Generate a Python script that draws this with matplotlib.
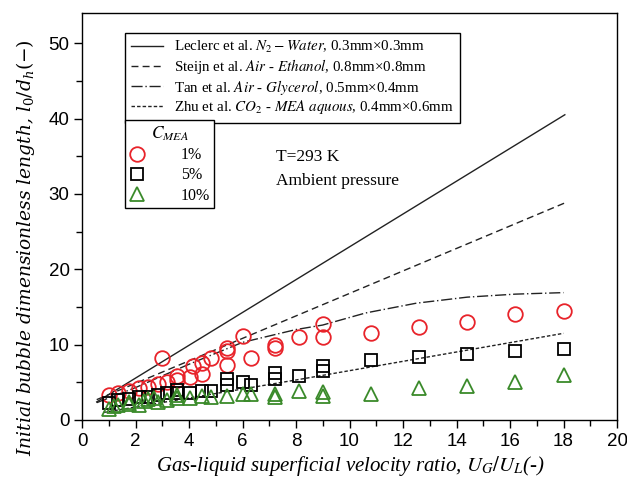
import matplotlib
matplotlib.use("Agg")
import matplotlib.pyplot as plt
from matplotlib.ticker import MultipleLocator

plt.rcParams['mathtext.fontset'] = 'stix'

# ---------------- data ----------------
c1_x = [1.0, 1.35, 1.76, 2.14, 2.47, 2.85, 3.0, 3.19, 3.56, 3.56, 4.04, 4.16, 4.5, 4.5, 4.81,
        5.41, 5.41, 5.41, 6.0, 6.31, 7.2, 7.2, 8.1, 9.0, 9.0, 10.8, 12.6, 14.4, 16.2, 18.0]
c1_y = [3.3, 3.6, 3.9, 4.3, 4.4, 4.75, 8.2, 5.0, 5.8, 5.3, 5.7, 7.2, 7.5, 6.1, 8.2,
        9.5, 9.1, 7.3, 11.2, 8.2, 10.0, 9.6, 11.0, 12.7, 11.0, 11.6, 12.4, 13.0, 14.0, 14.4]

c5_x = [1.0, 1.35, 1.76, 2.14, 2.47, 2.85, 3.19, 3.56, 3.56, 4.04, 4.5, 4.81, 5.41, 5.41,
        6.0, 6.31, 7.2, 7.2, 8.1, 9.0, 9.0, 10.8, 12.6, 14.4, 16.2, 18.0]
c5_y = [2.2, 2.6, 2.8, 3.0, 3.1, 3.3, 3.6, 4.0, 3.6, 3.6, 3.9, 3.9, 5.4, 4.6,
        5.1, 4.6, 6.3, 5.5, 5.9, 7.2, 6.5, 8.0, 8.4, 8.7, 9.1, 9.4]

c10_x = [1.0, 1.2, 1.35, 1.76, 1.76, 2.14, 2.3, 2.47, 2.7, 2.85, 3.19, 3.56, 3.56, 4.04, 4.5,
         4.81, 5.41, 6.0, 6.31, 7.2, 7.2, 8.1, 9.0, 9.0, 10.8, 12.6, 14.4, 16.2, 18.0]
c10_y = [1.5, 1.8, 2.0, 2.1, 2.4, 2.0, 2.5, 2.75, 2.9, 2.4, 2.7, 2.9, 3.3, 2.9, 3.2,
         3.1, 3.2, 3.5, 3.4, 3.5, 3.1, 3.8, 3.7, 3.2, 3.5, 4.2, 4.5, 5.1, 6.0]

leclerc_x = [0.55, 18.05]
leclerc_y = [2.4, 40.5]
steijn_x = [0.55, 18.05]
steijn_y = [2.7, 28.8]
tan_x = [0.55, 2.0, 4.0, 6.0, 8.0, 9.0, 10.6, 12.5, 14.4, 16.2, 18.0]
tan_y = [2.3, 4.3, 7.4, 10.3, 12.0, 12.6, 14.2, 15.5, 16.3, 16.7, 16.9]
zhu_x = [0.8, 8.15, 18.0]
zhu_y = [1.0, 5.4, 11.5]

line_labels = [r"Leclerc et al. $N_2-Water$, 0.3mm×0.3mm",
               r"Steijn et al. $Air$ - $Ethanol$, 0.8mm×0.8mm",
               r"Tan et al. $Air$ - $Glycerol$, 0.5mm×0.4mm",
               r"Zhu et al. $CO_2$ - $MEA\ aquous$, 0.4mm×0.6mm"]
conc_labels = ["1%", "5%", "10%"]

RED = '#e8232a'
GREEN = '#3a8a2a'

# ---------------- figure ----------------
W, H = 627, 482
fig = plt.figure(figsize=(W / 100, H / 100), dpi=100)
L, R, T, B = 82, 617, 13, 420
ax = fig.add_axes([L / W, 1 - B / H, (R - L) / W, (B - T) / H])

lw = 1.0
l1, = ax.plot(leclerc_x, leclerc_y, color='#222222', lw=lw, ls='-')
l2, = ax.plot(steijn_x, steijn_y, color='#222222', lw=lw, ls=(0, (5, 3)))
l3, = ax.plot(tan_x, tan_y, color='#222222', lw=lw, ls=(0, (8, 2, 1, 2)))
l4, = ax.plot(zhu_x, zhu_y, color='#222222', lw=lw, ls=(0, (2.5, 1.5)))

m1, = ax.plot(c1_x, c1_y, 'o', ms=10.5, mfc='none', mec=RED, mew=1.3, ls='none')
m2, = ax.plot(c5_x, c5_y, 's', ms=9, mfc='none', mec='black', mew=1.3, ls='none')
m3, = ax.plot(c10_x, c10_y, '^', ms=10.5, mfc='none', mec=GREEN, mew=1.3, ls='none')

ax.set_xlim(0, 20)
ax.set_ylim(0, 54)
ax.xaxis.set_major_locator(MultipleLocator(2))
ax.xaxis.set_minor_locator(MultipleLocator(1))
ax.yaxis.set_major_locator(MultipleLocator(10))
ax.yaxis.set_minor_locator(MultipleLocator(5))
ax.tick_params(which='major', direction='out', length=6, width=1, labelsize=13.5, pad=3)
ax.tick_params(which='minor', direction='out', length=4, width=1)
for lab in ax.get_xticklabels() + ax.get_yticklabels():
    lab.set_fontfamily('Liberation Sans')
for s in ax.spines.values():
    s.set_linewidth(1.0)

ax.set_xlabel(r"Gas-liquid superficial velocity ratio, $U_G/U_L$(-)",
              fontfamily='Liberation Serif', fontstyle='italic', fontsize=15)
ax.set_ylabel(r"Initial bubble dimensionless length, $l_0/d_h(-)$",
              fontfamily='DejaVu Serif', fontstyle='italic', fontsize=13.4,
              math_fontfamily='dejavuserif')

def ax_xy(px, py):
    return ((px - L) / (R - L), (B - py) / (B - T))

ax.xaxis.set_label_coords(*ax_xy(350, 466))
ax.xaxis.label.set_va('center')
ax.yaxis.set_label_coords(*ax_xy(26, 248))
ax.yaxis.label.set_va('center')

leg1 = ax.legend([l1, l2, l3, l4], line_labels, loc='upper left',
                 bbox_to_anchor=ax_xy(125, 33), borderaxespad=0,
                 prop={'family': 'Liberation Serif', 'size': 10.8},
                 handlelength=2.1, handletextpad=0.8, labelspacing=0.12,
                 borderpad=0.4, fancybox=False, edgecolor='black', framealpha=1)
leg1.get_frame().set_linewidth(1.0)
ax.add_artist(leg1)

leg2 = ax.legend([m1, m2, m3], conc_labels, loc='upper left',
                 bbox_to_anchor=ax_xy(125, 120), borderaxespad=0,
                 prop={'family': 'Liberation Serif', 'size': 11.5},
                 title=r"$C_{MEA}$", title_fontsize=12.5,
                 handlelength=1.0, handletextpad=2.2, labelspacing=0.27,
                 borderpad=0.28, fancybox=False, edgecolor='black', framealpha=1)
leg2.get_frame().set_linewidth(1.0)

ax.text(*ax_xy(276, 157), "T=293 K", transform=ax.transAxes,
        fontfamily='Liberation Serif', fontsize=12.5, va='center', ha='left')
ax.text(*ax_xy(276, 181), "Ambient pressure", transform=ax.transAxes,
        fontfamily='Liberation Serif', fontsize=12.5, va='center', ha='left')

fig.savefig("out.png", dpi=100)
